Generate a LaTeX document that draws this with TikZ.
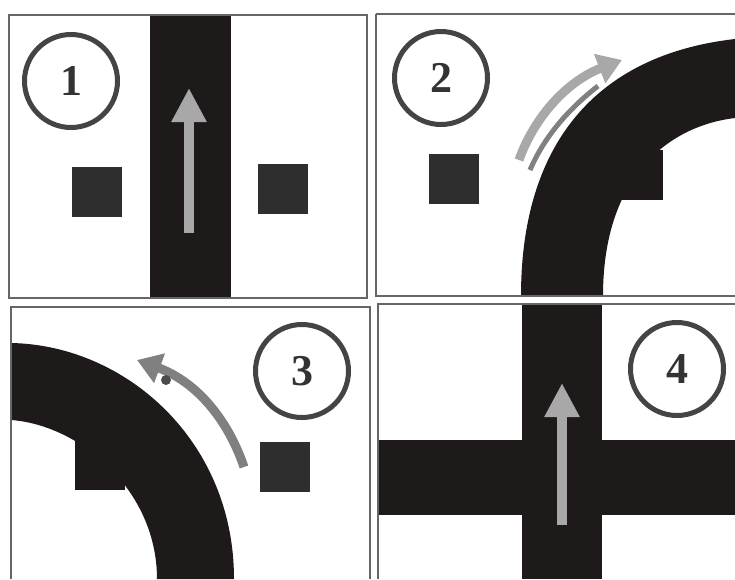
\documentclass[tikz,border=0pt]{standalone}
\usepackage{fontspec}
\setmainfont{Liberation Serif}
\usetikzlibrary{arrows.meta}
\definecolor{roadcol}{HTML}{1E1A1A}
\definecolor{blockcol}{HTML}{2E2E2E}
\definecolor{framecol}{HTML}{666666}
\definecolor{badgecol}{HTML}{444444}
\definecolor{arrowcol}{HTML}{A8A8A8}
\tikzset{
  road/.style={fill=roadcol, draw=none},
  panel/.style={draw=framecol, line width=1.6pt},
  badge/.style={circle, draw=badgecol, line width=5pt, fill=white, minimum size=93pt, inner sep=0pt,
    text=black!80, font=\fontsize{44}{44}\selectfont\bfseries},
  block/.style={rectangle, fill=blockcol, minimum size=50pt, inner sep=0pt},
  straightarrow/.style={arrowcol, line width=10pt, -{Triangle[length=34pt, width=33pt]}},
  bentarrow/.style={arrowcol, line width=9pt, -{Triangle[length=24pt, width=30pt]}}
}

\begin{document}
\begin{tikzpicture}[x=1pt, y=-1pt]
  \useasboundingbox (0,0) rectangle (735,579);

  % Panel 1: straight road
  \fill[road] (150,15) rectangle (231,298);
  \draw[panel] (9,15) rectangle (367,298);
  \node[badge] (badge1) at (71,81) {1};
  \node[block] (block1a) at (97,192) {};
  \node[block] (block1b) at (283,189) {};
  \coordinate (tail1) at (189,233);
  \coordinate (tip1) at (189,88);
  \draw[straightarrow] (tail1) -- (tip1);

  % Panel 2: road bending right
  \coordinate (tail2) at (519,160);
  \coordinate (tip2) at (622,60);
  \draw[black!50, line width=5pt] (530,170) .. controls (545,135) and (570,108) .. (598,86);
  \draw[bentarrow] (tail2) .. controls (533,120) and (565,82) .. (tip2);
  \fill[road] (521,296) .. controls (521,145) and (595,55) .. (735,39)
    -- (735,118) .. controls (675,125) and (603,170) .. (603,296) -- cycle;
  \draw[panel] (376,14) -- (737,14) (376,14) -- (376,296) -- (737,296);
  \node[badge] (badge2) at (441,78) {2};
  \node[block] (block2a) at (454,179) {};
  \node[block, fill=roadcol] (block2b) at (638,175) {};

  % Panel 3: road bending left
  \fill[road] (11,343) .. controls (125,345) and (234,440) .. (234,579)
    -- (157,579) .. controls (157,490) and (80,425) .. (11,420) -- cycle;
  \draw[panel] (11,579) -- (11,307) -- (370,307) -- (370,579);
  \node[badge] (badge3) at (302,371) {3};
  \node[block] (block3a) at (285,467) {};
  \node[block, fill=roadcol] (block3b) at (100,465) {};
  \coordinate (tail3) at (244,467);
  \coordinate (tip3) at (137,360);
  \draw[bentarrow, black!50] (tail3) .. controls (228,420) and (197,382) .. (tip3);
  \fill[black!70] (166,380) circle (5);

  % Panel 4: crossroads
  \fill[road] (522,304) rectangle (602,579);
  \fill[road] (378,440) rectangle (735,515);
  \draw[panel] (378,579) -- (378,304) -- (737,304);
  \node[badge] (badge4) at (677,369) {4};
  \coordinate (tail4) at (562,525);
  \coordinate (tip4) at (562,383);
  \draw[straightarrow] (tail4) -- (tip4);
\end{tikzpicture}
\end{document}
